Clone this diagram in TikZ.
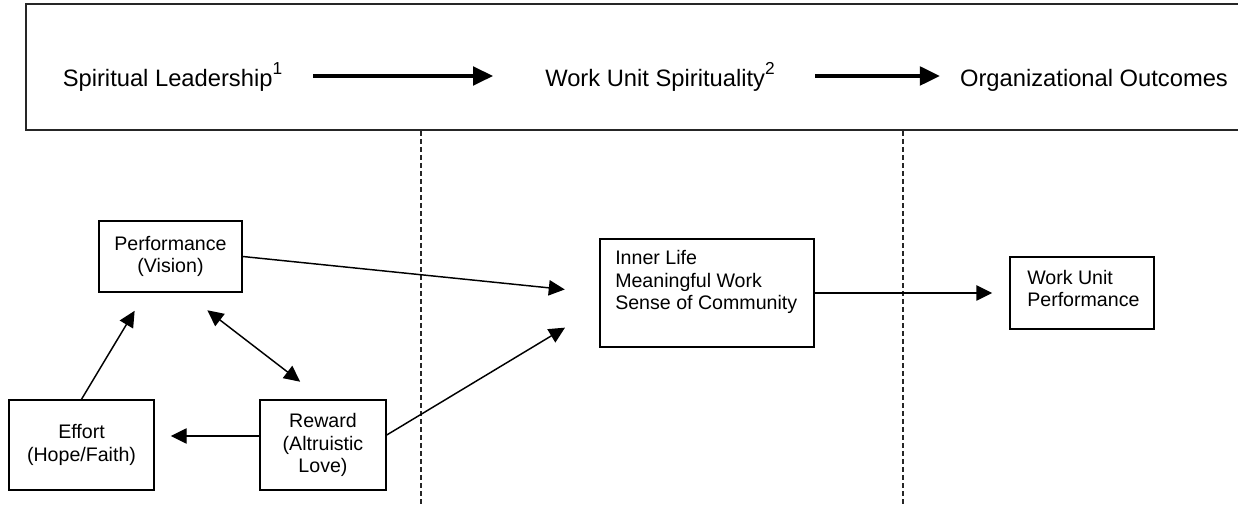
\documentclass[tikz,border=0pt]{standalone}
\usepackage{fontspec}
\setmainfont{Liberation Sans}
\usetikzlibrary{arrows.meta,calc}
\newcommand{\topfont}{\fontsize{17.8}{20}\selectfont}
\newcommand{\boxfont}{\fontsize{14.7}{17}\selectfont}
\newcommand{\supnum}[1]{\raisebox{9pt}{\fontsize{13}{13}\selectfont #1}}
\tikzset{
  frame/.style={line width=1.3pt, draw=black!85},
  divider/.style={line width=1pt, draw=black!85, dash pattern=on 3.75pt off 2.25pt},
  bigarrow/.style={line width=2.5pt, -{Triangle[length=15pt,width=14pt]}},
  conn/.style={line width=1.1pt, -{Triangle[length=12pt,width=11.5pt]}},
  dconn/.style={line width=1.1pt, {Triangle[length=12pt,width=11.5pt]}-{Triangle[length=12pt,width=11.5pt]}},
  headtext/.style={font=\topfont, inner sep=0pt, anchor=base},
  box/.style={draw, line width=1.1pt, inner sep=0pt, align=center, font=\boxfont},
  boxtext/.style={inner sep=0pt, align=left, font=\boxfont, anchor=west},
}
\begin{document}
\begin{tikzpicture}[x=0.75pt,y=-0.75pt]
\useasboundingbox (0,0) rectangle (1238,505);
% top frame (open on the right)
\draw[frame] (1240,4) -- (26,4) -- (26,130) -- (1240,130);
% dashed dividers
\draw[divider] (421,131) -- (421,505);
\draw[divider] (903,131) -- (903,505);
% header texts
\node[headtext] (sl) at (172.5,87) {Spiritual Leadership\supnum{1}};
\node[headtext] (wus) at (660,87) {Work Unit Spirituality\supnum{2}};
\node[headtext] (oo) at (1094,87) {Organizational Outcomes};
\draw[bigarrow] ($(sl.base east)+(31,-11)$) -- ($(wus.base west)+(-52,-11)$);
\draw[bigarrow] ($(wus.base east)+(40,-11)$) -- ($(oo.base west)+(-20,-11)$);
% boxes
\node[box, minimum width=107.25pt, minimum height=53.25pt] (perf) at (170.5,256.5) {Performance\\(Vision)};
\node[box, minimum width=108.75pt, minimum height=67.5pt] (effort) at (81.5,445) {Effort\\(Hope/Faith)};
\node[box, minimum width=94.5pt, minimum height=67.5pt] (reward) at (323,445) {Reward\\(Altruistic\\Love)};
\node[draw, line width=1.1pt, minimum width=160.5pt, minimum height=81pt, inner sep=0pt] (inner) at (707,293) {};
\node[boxtext] (innertxt) at (615,282) {Inner Life\\Meaningful Work\\Sense of Community};
\node[draw, line width=1.1pt, minimum width=108pt, minimum height=54pt, inner sep=0pt] (wup) at (1082,293) {};
\node[boxtext] (wuptxt) at (1027,288.5) {Work Unit\\Performance};
% connectors
\draw[conn, shorten >=26pt] (perf.east) -- (inner.west);
\draw[conn, shorten >=30pt] ($(reward.east)+(0,-10)$) -- ($(inner.west)+(0,14)$);
\draw[conn, shorten >=12.75pt] (inner.east) -- (wup.west);
\draw[conn, shorten >=15.8pt] (effort.north) -- ($(perf.south)+(-25,0)$);
\draw[dconn, shorten <=21.6pt, shorten >=21.6pt] ($(perf.south)+(14,0)$) -- (reward.north);
\draw[conn, shorten >=12pt] ($(reward.west)+(0,-9)$) -- ($(effort.east)+(0,-9)$);
\end{tikzpicture}
\end{document}
